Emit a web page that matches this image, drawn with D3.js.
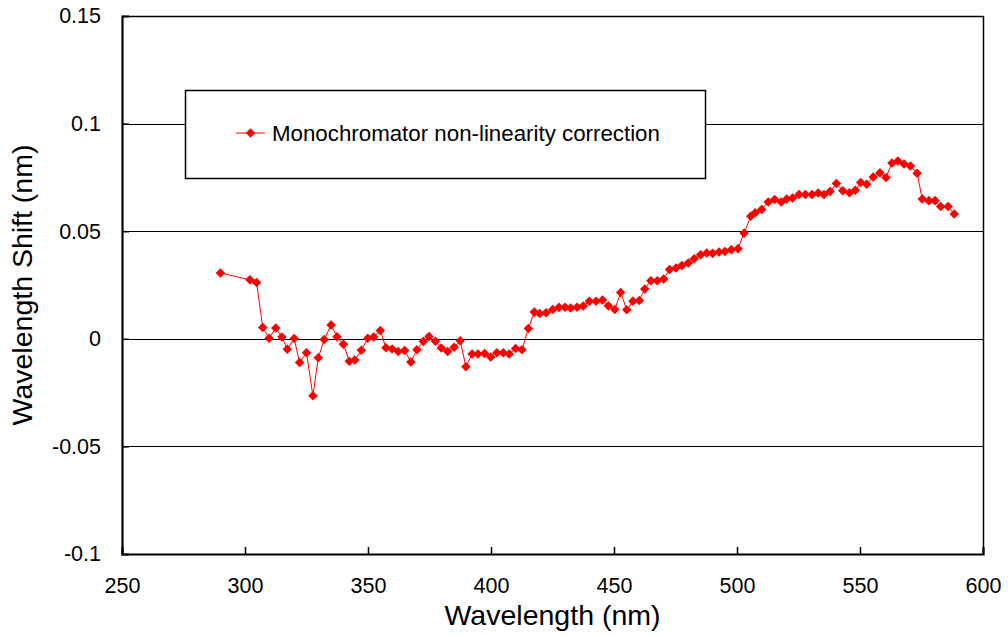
<!DOCTYPE html>
<html><head><meta charset="utf-8">
<script src="https://cdn.jsdelivr.net/npm/d3@7"></script>
<style>body{margin:0;background:#fff}svg{display:block}text{font-family:"Liberation Sans",Arial,sans-serif;fill:#000}</style>
</head><body>
<svg id="c" width="1008" height="637"></svg>
<script>
const wavelength = [290,302,304.7,307.2,309.8,312.5,315,317.2,320,322.2,325,327.6,329.8,332.2,335,337.4,340,342.4,344.6,347.3,349.9,352.3,355,357.3,359.8,362.3,364.9,367.4,369.9,372.5,374.8,377.4,379.8,382.4,385,387.5,389.8,392.3,394.7,397.4,399.9,402.4,405,407.4,410,412.6,415.2,417.6,419.8,422.4,425.1,427.6,430.1,432.4,435,437.5,440,442.7,445.3,447.7,450.3,452.7,455.2,457.7,460.3,462.5,465,467.6,470.2,472.6,475.2,477.6,480.2,482.6,485.2,487.7,490.1,492.7,495.1,497.7,500.4,502.9,505.6,507.4,510,512.7,515.3,518,520.2,522.6,525.2,527.8,530.5,533,535.4,537.8,540.4,543,545.7,548.1,550.3,552.7,555.4,558.1,560.6,563,565.4,567.9,570.5,573.2,575.3,578,580.5,582.8,585.8,588.3];
const shift = [0.0306,0.0274,0.0262,0.0053,0.0003,0.005,0.0008,-0.0048,0.0001,-0.011,-0.0065,-0.0265,-0.0088,-0.0003,0.0064,0.0009,-0.0025,-0.0104,-0.0099,-0.0053,0.0003,0.0008,0.0039,-0.0042,-0.0047,-0.0059,-0.0054,-0.0108,-0.0051,-0.0012,0.0011,-0.0011,-0.0043,-0.0059,-0.0039,-0.0009,-0.013,-0.0071,-0.0071,-0.0068,-0.0085,-0.0065,-0.0065,-0.0071,-0.0045,-0.0051,0.0048,0.0124,0.0118,0.0121,0.0136,0.0146,0.0147,0.0143,0.0147,0.0152,0.0174,0.0174,0.018,0.0153,0.0136,0.0215,0.0135,0.0175,0.0178,0.0231,0.027,0.027,0.0278,0.0322,0.0329,0.0341,0.0352,0.0372,0.0391,0.0399,0.0397,0.0403,0.0406,0.0414,0.0419,0.0491,0.0569,0.0586,0.0601,0.0636,0.0647,0.0636,0.065,0.0654,0.0671,0.0671,0.0671,0.0678,0.0671,0.0684,0.0722,0.0688,0.0679,0.069,0.0726,0.0718,0.0752,0.0771,0.075,0.0817,0.0826,0.0812,0.0803,0.0769,0.065,0.0642,0.0642,0.0615,0.0615,0.058];
const xTicks = [250,300,350,400,450,500,550,600];
const yTicks = [-0.1,-0.05,0,0.05,0.1,0.15];
const yTickLabels = ["-0.1","-0.05","0","0.05","0.1","0.15"];
const seriesName = "Monochromator non-linearity correction";
const xTitle = "Wavelength (nm)";
const yTitle = "Wavelength Shift (nm)";

const svg = d3.select("#c");
const L=122, R=983, T=16, B=554;
const x = d3.scaleLinear().domain([250,600]).range([L,R]);
const y = d3.scaleLinear().domain([-0.1,0.15]).range([B,T]);
const red = "#ff0000";

// gridlines
svg.append("g").selectAll("line").data(yTicks.filter(v=>v>-0.1&&v<0.15)).join("line")
  .attr("x1",L).attr("x2",R).attr("y1",d=>Math.round(y(d))+0.5).attr("y2",d=>Math.round(y(d))+0.5)
  .attr("stroke","#000").attr("stroke-width",1);
// top & right border
svg.append("line").attr("x1",L).attr("x2",R+0.5).attr("y1",T+0.5).attr("y2",T+0.5).attr("stroke","#000").attr("stroke-width",1.5);
svg.append("line").attr("x1",R+0.5).attr("x2",R+0.5).attr("y1",T).attr("y2",B).attr("stroke","#000").attr("stroke-width",1.5);

// axes
const fmt = d => yTickLabels[yTicks.indexOf(d)];
const ya = svg.append("g").attr("transform",`translate(${L},0)`)
  .call(d3.axisLeft(y).tickValues(yTicks).tickSize(-7).tickPadding(21).tickFormat(fmt));
const xa = svg.append("g").attr("transform",`translate(0,${B})`)
  .call(d3.axisBottom(x).tickValues(xTicks).tickSize(-7).tickPadding(24).tickFormat(d3.format("d")));
[ya,xa].forEach(g=>{
  g.select(".domain").attr("stroke","#000").attr("stroke-width",2.2);
  g.selectAll(".tick line").attr("stroke","#000").attr("stroke-width",1.5);
  g.selectAll("text").attr("font-family","'Liberation Sans',Arial,sans-serif").attr("font-size",21.5).attr("fill","#000");
});
ya.selectAll(".tick").filter(d=>d===0.15||d===-0.1).select("line").remove();
xa.selectAll(".tick").filter(d=>d===250||d===600).select("line").remove();

// series
const pts = wavelength.map((w,i)=>[w,shift[i]]);
svg.append("path").datum(pts).attr("fill","none").attr("stroke",red).attr("stroke-width",1)
  .attr("d",d3.line().x(d=>x(d[0])).y(d=>y(d[1])));
const diamond = d3.symbol().type(d3.symbolDiamond2).size(58);
svg.append("g").selectAll("path").data(pts).join("path")
  .attr("transform",d=>`translate(${x(d[0])},${y(d[1])})`).attr("d",diamond).attr("fill",red);

// legend
svg.append("rect").attr("x",185.5).attr("y",90.5).attr("width",520).attr("height",88)
  .attr("fill","#fff").attr("stroke","#000").attr("stroke-width",1.5);
svg.append("line").attr("x1",236).attr("x2",265).attr("y1",133).attr("y2",133).attr("stroke",red).attr("stroke-width",1);
svg.append("path").attr("transform","translate(250.5,133)").attr("d",diamond).attr("fill",red);
svg.append("text").attr("x",272).attr("y",141).attr("font-size",22.3).text(seriesName);

// titles
svg.append("text").attr("x",(L+R)/2).attr("y",625).attr("text-anchor","middle").attr("font-size",28.5).text(xTitle);
svg.append("text").attr("transform","translate(32,285) rotate(-90)").attr("text-anchor","middle").attr("font-size",28.5).text(yTitle);
</script>
</body></html>
